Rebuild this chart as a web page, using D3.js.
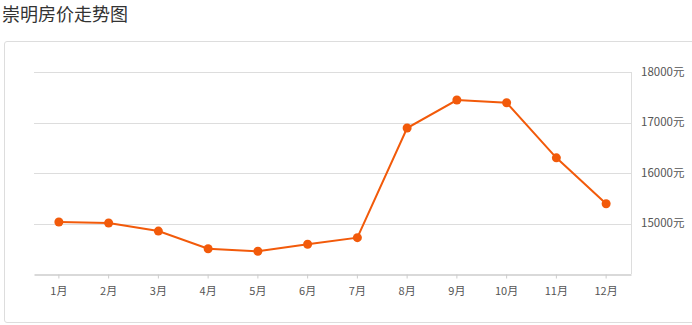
<!DOCTYPE html>
<html>
<head>
<meta charset="utf-8">
<script src="https://cdn.jsdelivr.net/npm/d3@7.9.0/dist/d3.min.js"></script>
<style>
  body { margin: 0; background: #fff; font-family: "Noto Sans CJK SC", "Microsoft YaHei", sans-serif; }
  .title { position: absolute; left: 2px; top: 0px; font-size: 18px; color: #333; }
  .box { position: absolute; left: 4px; top: 41px; width: 700px; height: 280px; border: 1px solid #ddd; border-radius: 3px; }
  svg { position: absolute; left: 0; top: 0; }
</style>
</head>
<body>
<div class="title">崇明房价走势图</div>
<div class="box"></div>
<svg width="692" height="325"></svg>
<script>
const months = ['1月','2月','3月','4月','5月','6月','7月','8月','9月','10月','11月','12月'];
const prices = [15030, 15010, 14850, 14500, 14450, 14590, 14720, 16890, 17445, 17390, 16300, 15390];
const yTicks = [15000, 16000, 17000, 18000];

const svg = d3.select('svg');
const plotLeft = 34, plotRight = 631, plotTop = 72, plotBottom = 274;

let x = d3.scaleBand().domain(months).range([plotLeft, plotRight]);
let y = d3.scaleLinear().domain([14000, 18000]).range([plotBottom, plotTop]);

// gridlines
svg.append('g')
  .selectAll('line')
  .data(yTicks)
  .join('line')
  .attr('x1', plotLeft).attr('x2', plotRight)
  .attr('y1', d => Math.round(y(d)) + 0.5).attr('y2', d => Math.round(y(d)) + 0.5)
  .attr('stroke', '#ddd');

// right axis line
svg.append('line')
  .attr('x1', plotRight + 0.5).attr('x2', plotRight + 0.5)
  .attr('y1', plotTop).attr('y2', plotBottom)
  .attr('stroke', '#ddd');

// y labels
svg.append('g')
  .selectAll('text')
  .data(yTicks)
  .join('text')
  .attr('x', 641)
  .attr('y', d => y(d) + 3.5)
  .attr('font-size', 11.5)
  .attr('fill', '#555')
  .text(d => d + '元');

// x axis
let xAxis = d3.axisBottom(x).tickSize(4).tickSizeOuter(0);
let gx = svg.append('g').attr('transform', `translate(0,${plotBottom + 0.5})`).call(xAxis);
gx.select('.domain').attr('stroke', '#ccc').attr('stroke-width', 1.5);
gx.selectAll('.tick line').attr('stroke', '#ccc');
gx.selectAll('.tick text')
  .attr('dy', 0).attr('y', 20.5)
  .attr('font-size', 11)
  .attr('fill', '#555')
  .attr('font-family', '"Noto Sans CJK SC", sans-serif');

const cx = d => x(d) + x.bandwidth() / 2;
const color = '#f25a0a';

let line = d3.line()
  .x((d, i) => cx(months[i]))
  .y(d => y(d));

svg.append('path')
  .datum(prices)
  .attr('d', line)
  .attr('fill', 'none')
  .attr('stroke', color)
  .attr('stroke-width', 2);

svg.append('g')
  .selectAll('circle')
  .data(prices)
  .join('circle')
  .attr('cx', (d, i) => cx(months[i]))
  .attr('cy', d => y(d))
  .attr('r', 4.5)
  .attr('fill', color);
</script>
</body>
</html>
